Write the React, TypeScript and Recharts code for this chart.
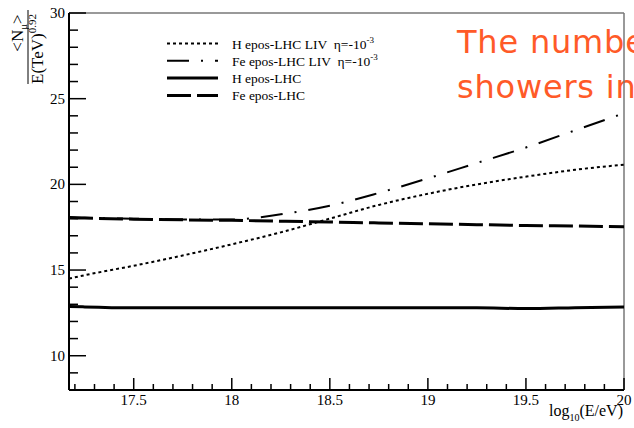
import { LineChart, Line, XAxis, YAxis, ReferenceLine } from "recharts";

// log10(E/eV) sample points
const energies = [17.17, 17.25, 17.5, 17.75, 18, 18.25, 18.5, 18.75, 19, 19.25, 19.5, 19.75, 20];

// <N_mu> / E(TeV)^0.92 for each simulation
const hLiv = [14.5, 14.7, 15.25, 15.85, 16.5, 17.2, 18.0, 18.8, 19.45, 20.0, 20.45, 20.85, 21.15];
const feLiv = [18.1, 18.05, 18.0, 17.95, 17.95, 18.25, 18.75, 19.5, 20.35, 21.25, 22.15, 23.15, 24.15];
const hStd = [12.88, 12.85, 12.8, 12.8, 12.8, 12.8, 12.8, 12.8, 12.8, 12.8, 12.75, 12.8, 12.85];
const feStd = [18.05, 18.03, 17.97, 17.93, 17.9, 17.85, 17.8, 17.75, 17.7, 17.65, 17.6, 17.57, 17.53];

const xMajorTicks = [17.5, 18, 18.5, 19, 19.5, 20];
const xMinorTicks = [17.2, 17.3, 17.4, 17.6, 17.7, 17.8, 17.9, 18.1, 18.2, 18.3, 18.4, 18.6, 18.7, 18.8, 18.9, 19.1, 19.2, 19.3, 19.4, 19.6, 19.7, 19.8, 19.9];
const yMajorTicks = [10, 15, 20, 25, 30];
const yMinorTicks = [9, 11, 12, 13, 14, 16, 17, 18, 19, 21, 22, 23, 24, 26, 27, 28, 29];

const data = energies.map((e, i) => ({
  e,
  hLiv: hLiv[i],
  feLiv: feLiv[i],
  hStd: hStd[i],
  feStd: feStd[i],
}));

const serif = '"Liberation Serif", "DejaVu Serif", serif';
const serifStyle = { fontFamily: serif };

const XTick = (props: any) => {
  const { x, y, payload } = props;
  const major = xMajorTicks.includes(payload.value);
  return (
    <g>
      <line x1={x} y1={y} x2={x} y2={y - (major ? 12 : 6)} stroke="#000" strokeWidth={1.5} />
      {major && (
        <text x={x} y={y + 15} textAnchor="middle" style={serifStyle} fontSize={15} fill="#000">
          {payload.value}
        </text>
      )}
    </g>
  );
};

const YTick = (props: any) => {
  const { x, y, payload } = props;
  const major = yMajorTicks.includes(payload.value);
  return (
    <g>
      <line x1={x} y1={y} x2={x + (major ? 17 : 9)} y2={y} stroke="#000" strokeWidth={1.5} />
      {major && (
        <text x={x - 4} y={y + 5} textAnchor="end" style={serifStyle} fontSize={15} fill="#000">
          {payload.value}
        </text>
      )}
    </g>
  );
};

const legendRows = [
  { label: "H epos-LHC LIV  η=-10", sup: "-3", dash: "3 3", width: 2 },
  { label: "Fe epos-LHC LIV  η=-10", sup: "-3", dash: "22 12 2 12", width: 2 },
  { label: "H epos-LHC", sup: "", dash: undefined, width: 3 },
  { label: "Fe epos-LHC", sup: "", dash: "24 6", width: 3 },
];

const Overlay = () => (
  <svg width={634} height={428} style={{ position: "absolute", left: 0, top: 0, pointerEvents: "none", fontFamily: serif }}>
    {/* y axis title, a rotated fraction */}
    <text transform="translate(23,33) rotate(-90)" textAnchor="middle" style={serifStyle} fontSize={17}>
      {"<N"}
      <tspan fontSize={11} dy={4}>μ</tspan>
      <tspan dy={-4}>{">"}</tspan>
    </text>
    <line x1={28} y1={10} x2={28} y2={84} stroke="#000" strokeWidth={1} />
    <text transform="translate(43,49) rotate(-90)" textAnchor="middle" style={serifStyle} fontSize={17}>
      E(TeV)
      <tspan fontSize={11} dy={-7}>0.92</tspan>
    </text>

    {/* x axis title */}
    <text x={623} y={416} textAnchor="end" style={serifStyle} fontSize={16}>
      log
      <tspan fontSize={10} dy={5}>10</tspan>
      <tspan dy={-5}>(E/eV)</tspan>
    </text>

    {/* legend */}
    {legendRows.map((r, i) => {
      const y = 43.5 + i * 17.3;
      return (
        <g key={r.label}>
          <line x1={167} y1={y} x2={218} y2={y} stroke="#000" strokeWidth={r.width} strokeDasharray={r.dash} />
          <text x={232} y={y + 5} style={serifStyle} fontSize={13.5} xmlSpace="preserve">
            {r.label}
            {r.sup && (
              <tspan fontSize={9} dy={-6}>
                {r.sup}
              </tspan>
            )}
          </text>
        </g>
      );
    })}
  </svg>
);

export default function App() {
  return (
    <div style={{ position: "absolute", left: 0, top: 0, width: 634, height: 428, overflow: "hidden", background: "#fff" }}>
      {/* slide text that sits behind the plot */}
      <div
        style={{
          position: "absolute",
          left: 457,
          top: 20,
          fontFamily: "'DejaVu Sans', sans-serif",
          fontSize: 32,
          letterSpacing: 0.8,
          lineHeight: "45px",
          color: "#FF5A28",
          whiteSpace: "nowrap",
        }}
      >
        The number of muons in
        <br />
        showers increases
      </div>

      <div style={{ position: "absolute", left: 0, top: 0 }}>
        <LineChart width={634} height={428} data={data} margin={{ top: 13, right: 10, left: 0, bottom: 0 }}>
          <XAxis
            dataKey="e"
            type="number"
            domain={[17.17, 20]}
            ticks={[...xMinorTicks, ...xMajorTicks].sort((a, b) => a - b)}
            interval={0}
            height={38}
            tickSize={0}
            tickMargin={0}
            tickLine={false}
            tick={<XTick />}
            axisLine={{ stroke: "#000", strokeWidth: 2 }}
            allowDataOverflow
          />
          <YAxis
            type="number"
            domain={[8, 30]}
            ticks={[...yMinorTicks, ...yMajorTicks].sort((a, b) => a - b)}
            interval={0}
            width={69}
            tickSize={0}
            tickMargin={0}
            tickLine={false}
            tick={<YTick />}
            axisLine={{ stroke: "#000", strokeWidth: 2 }}
            allowDataOverflow
          />
          <ReferenceLine y={30} stroke="#777" strokeWidth={1.5} />
          <ReferenceLine x={20} stroke="#777" strokeWidth={1.5} />

          <Line type="monotone" dataKey="hLiv" stroke="#000" strokeWidth={2} strokeDasharray="3 3" dot={false} isAnimationActive={false} />
          <Line type="monotone" dataKey="feLiv" stroke="#000" strokeWidth={2} strokeDasharray="22 12 2 12" dot={false} isAnimationActive={false} />
          <Line type="monotone" dataKey="hStd" stroke="#000" strokeWidth={3} dot={false} isAnimationActive={false} />
          <Line type="monotone" dataKey="feStd" stroke="#000" strokeWidth={3} strokeDasharray="24 6" dot={false} isAnimationActive={false} />
        </LineChart>
      </div>

      <Overlay />
    </div>
  );
}
